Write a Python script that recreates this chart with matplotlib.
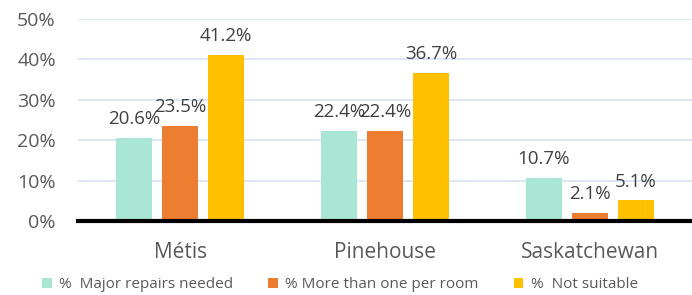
import matplotlib
matplotlib.use("Agg")
import matplotlib.pyplot as plt
import numpy as np

categories = ["Métis", "Pinehouse", "Saskatchewan"]
series_names = ["%  Major repairs needed", "% More than one per room", "%  Not suitable"]
major_repairs = [20.6, 22.4, 10.7]
more_than_one = [23.5, 22.4, 2.1]
not_suitable = [41.2, 36.7, 5.1]
yticks = [0, 10, 20, 30, 40, 50]
ytick_labels = ["0%", "10%", "20%", "30%", "40%", "50%"]

colors = ["#A9E6D3", "#ED7D31", "#FFC000"]
plt.rcParams['font.family'] = ['Open Sans', 'DejaVu Sans']

fig = plt.figure(figsize=(6.92, 2.95), dpi=100)
ax = fig.add_axes([78/692, 1-221/295, 1-78/692, (221-19)/295])

x = np.arange(len(categories))
width = 0.176
offset = 0.224
series = [major_repairs, more_than_one, not_suitable]
for i, (vals, name, c) in enumerate(zip(series, series_names, colors)):
    pos = x + (i - 1) * offset
    bars = ax.bar(pos, vals, width, color=c, label=name, zorder=3)
    for b, v in zip(bars, vals):
        ax.annotate(f"{v:.1f}%", (b.get_x() + b.get_width()/2, v),
                    xytext=(0, 7), textcoords="offset points",
                    ha="center", va="bottom", fontsize=13.5, color="#404040", zorder=5)

ax.set_xlim(-0.5, 2.5)
ax.set_ylim(0, 50)
ax.set_yticks(yticks)
ax.set_yticklabels(ytick_labels)
ax.set_xticks(x)
ax.set_xticklabels(categories)
ax.tick_params(axis='y', length=0, labelsize=14, labelcolor="#595959", pad=16)
ax.tick_params(axis='x', length=0, labelsize=15, labelcolor="#595959", pad=15)
ax.grid(axis='y', color="#D5E2F2", linewidth=1.2, zorder=0)
for s in ["top", "right", "left"]:
    ax.spines[s].set_visible(False)
ax.spines["bottom"].set_color("black")
ax.spines["bottom"].set_linewidth(3)
ax.spines["bottom"].set_zorder(4)

leg = fig.legend(loc="center", bbox_to_anchor=(340/692, 1-285/295), ncol=3, frameon=False,
                 fontsize=11, handlelength=0.6, handleheight=0.6, handletextpad=0.5,
                 columnspacing=2.3, labelcolor="#595959")
fig.savefig("out.png", dpi=100)
